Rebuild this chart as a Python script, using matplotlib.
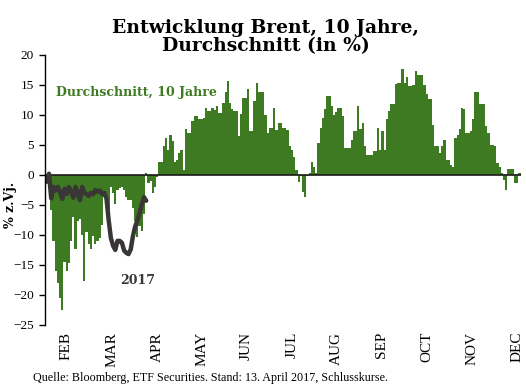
import numpy as np
import matplotlib
matplotlib.use('Agg')
import matplotlib.pyplot as plt

# 10-year average Brent % y/y, one value per trading day
avg10 = [
    -1.5, -1.4, -5.9, -11, -16, -18, -20.5, -22.6, -14.5, -16,
    -14.7, -11, -7, -12.4, -7.7, -7.3, -10, -17.7, -9.5, -11.5,
    -12.4, -10.1, -11.5, -11, -10.5, -8.4, -3.7, -4.7, -5.9, -2,
    -3, -4.8, -2.5, -2.2, -2, -2.5, -3.7, -4.2, -4.2, -5.5,
    -7.6, -10.4, -8.5, -9.3, -6.5, 0.3, -1.4, -1, -3, -2,
    -0.3, 2.2, 2.2, 4.8, 6.2, 4.2, 6.7, 5.6, 2.2, 2.5,
    3.7, 4.2, 0.8, 7.6, 7, 7, 9, 9.8, 9.8, 9.3,
    9.3, 9.5, 11.2, 10.7, 10.7, 11.2, 10.8, 11.5, 10.4, 10.4,
    12, 13.8, 15.7, 12, 11, 10.7, 10.7, 6.5, 10.1, 12.9,
    12.9, 14.3, 7.3, 7.3, 12.4, 15.4, 13.8, 13.8, 13.8, 10,
    7, 7.9, 7.9, 11.2, 7.5, 8.7, 8.7, 7.9, 7.9, 7.5,
    4.8, 4.2, 3, 0.8, -1.1, -0.2, -2.8, -3.7, -0.2, 0.3,
    2.2, 1.4, 0.3, 5.3, 7.9, 9.5, 11, 13.2, 13.2, 11.5,
    10, 10.5, 11.2, 11.2, 9.8, 4.5, 4.5, 4.5, 5.9, 7.3,
    7.3, 11.5, 7.6, 8.7, 4.8, 3.4, 3.4, 3.4, 4, 4,
    7.9, 4.2, 7.3, 4.2, 9.3, 10.7, 11.8, 11.8, 15.2, 15.4,
    15.4, 17.7, 15.4, 16.3, 14.9, 14.9, 15, 17.4, 16.6, 16.6,
    16.6, 15, 13.5, 12.6, 12.6, 8.4, 4.8, 4.8, 3.7, 4.8,
    5.9, 2.5, 2.5, 1.7, 1.4, 6.2, 6.7, 7.6, 11.2, 11,
    7, 7, 7.3, 9.3, 13.8, 13.8, 11.8, 11.8, 11.8, 8.1,
    7, 5, 5, 4.8, 2, 1.4, 0.3, -0.8, -2.5, 1,
    1, 1, -1.4, -1.4, 0.3,
]

# 2017 % y/y up to 13 April
y2017 = [
    -1.0, 0.2, -3.9, -2.0, -2.6, -2.0, -2.9, -4.0, -2.3, -3.2,
    -2.0, -2.8, -3.8, -2.0, -3.0, -4.2, -2.0, -3.0, -3.2, -3.5,
    -3.0, -3.2, -2.5, -2.8, -2.6, -3.2, -3.0, -3.9, -7.5, -10.5,
    -11.8, -12.5, -11.0, -11.0, -11.3, -12.6, -13.0, -13.2, -12.4, -10.2,
    -8.6, -7.6, -6.4, -4.9, -3.7, -4.3,
]

months = ['FEB', 'MAR', 'APR', 'MAY', 'JUN', 'JUL', 'AUG', 'SEP', 'OCT', 'NOV', 'DEC']
month_pos = [8.6, 29.5, 49.9, 70.3, 90.4, 110.9, 131.3, 151.7, 172.2, 192.3, 212.7]

green = '#3d7a22'
serif = 'Liberation Serif'

fig = plt.figure(figsize=(5.26, 3.9), dpi=100)
ax = fig.add_axes([0.0856, 0.167, 0.905, 0.692])

x = np.arange(len(avg10))
ax.bar(x, avg10, width=1.0, color=green, linewidth=0)
ax.axhline(0, color='#1a1a1a', linewidth=1.2)
ax.plot(np.arange(len(y2017)), y2017, color='#3a3636', linewidth=3.2,
        solid_joinstyle='round', solid_capstyle='round')

ax.set_xlim(-0.8, len(avg10) - 0.3)
ax.set_ylim(-25, 20)
ax.set_yticks(np.arange(-25, 21, 5))
ax.set_xticks(month_pos)
ax.set_xticklabels(months, rotation=90, fontfamily=serif, fontsize=11)
ax.tick_params(axis='x', length=0, pad=5)
ax.tick_params(axis='y', length=4, width=1, pad=4, direction='out')
for lab in ax.get_yticklabels():
    lab.set_fontfamily(serif)
    lab.set_fontsize(9.5)

for s in ['top', 'right', 'bottom']:
    ax.spines[s].set_visible(False)
ax.spines['left'].set_linewidth(1)

ax.set_ylabel('% z.Vj.', fontfamily='DejaVu Serif', fontweight='bold', fontsize=9)
ax.yaxis.set_label_coords(-0.058, 0.444)

ax.text(4, 13.8, 'Durchschnitt, 10 Jahre', color=green, fontfamily='DejaVu Serif',
        fontweight='bold', fontsize=9, va='center')
ax.text(41.3, -17.6, '2017', color='#3a3636', fontfamily='DejaVu Serif',
        fontweight='bold', fontsize=9, va='center', ha='center')

fig.text(0.505, 0.905, 'Entwicklung Brent, 10 Jahre,\nDurchschnitt (in %)', ha='center', va='center',
         fontfamily='DejaVu Serif', fontweight='bold', fontsize=13.5, linespacing=1.0)
fig.text(0.063, 0.03, 'Quelle: Bloomberg, ETF Securities. Stand: 13. April 2017, Schlusskurse.',
         fontfamily=serif, fontsize=8.7, va='center')

fig.savefig('out.png', dpi=100)
